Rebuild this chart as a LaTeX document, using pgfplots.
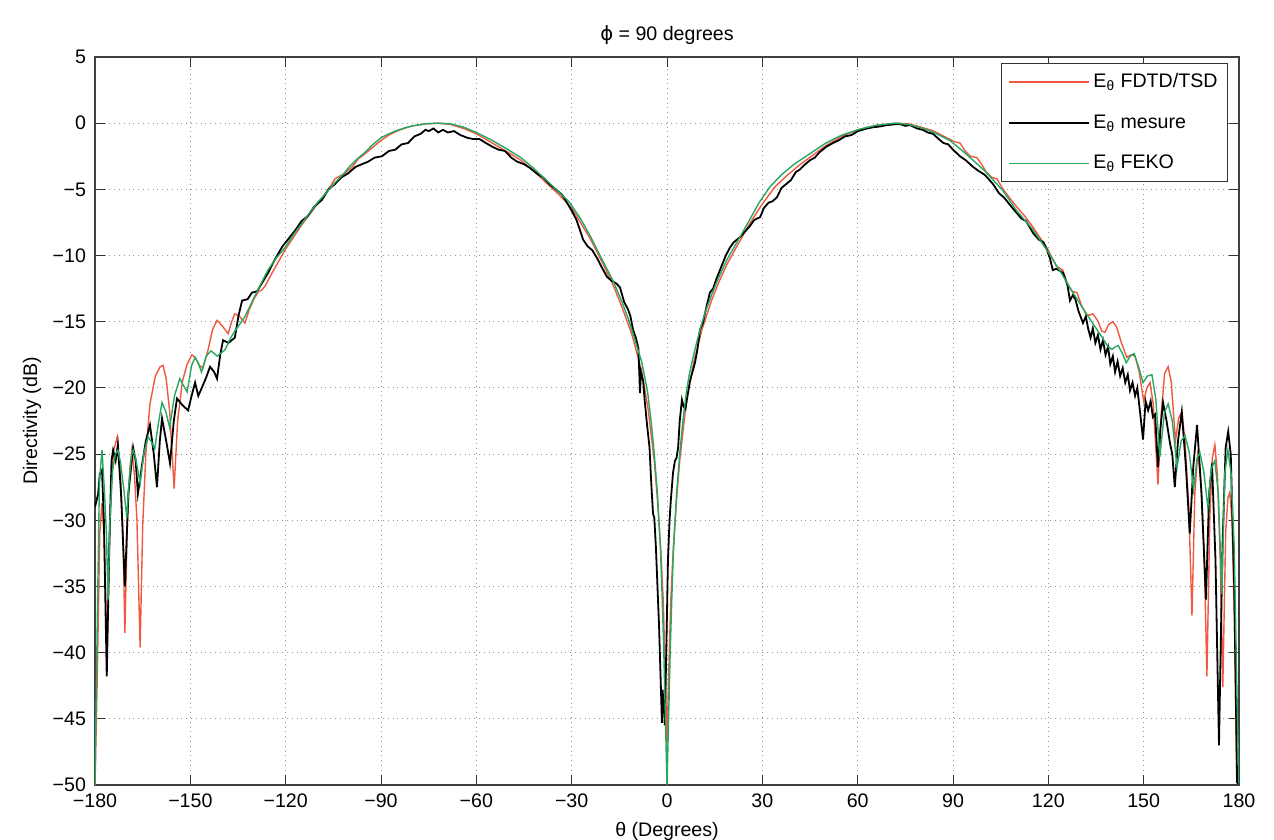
\documentclass[border=0pt]{standalone}
\usepackage{fontspec}
\setmainfont{Liberation Sans}
\newfontfamily\dejavu{DejaVu Sans}
\usepackage{pgfplots}
\pgfplotsset{compat=1.18}
\definecolor{fdtdred}{RGB}{240,88,66}
\definecolor{fekogreen}{RGB}{38,168,98}
\definecolor{gridgray}{RGB}{150,150,150}
\begin{document}
\begin{tikzpicture}
\path[use as bounding box] (-47.5pt,-27.5pt) rectangle (589.5pt,392.5pt);
\begin{axis}[
  scale only axis,
  width=572pt, height=364pt,
  xmin=-180, xmax=180, ymin=-50, ymax=5,
  xtick={-180,-150,...,180},
  ytick={-50,-45,...,5},
  xticklabels={−180,−150,−120,−90,−60,−30,0,30,60,90,120,150,180},
  yticklabels={−50,−45,−40,−35,−30,−25,−20,−15,−10,−5,0,5},
  tick align=inside,
  major tick length=5pt,
  tick style={black!80, line width=0.5pt},
  axis line style={black!75, line width=0.6pt},
  grid=major,
  major grid style={gridgray, dotted, line width=0.5pt},
  ticklabel style={font=\fontsize{9.8}{11}\selectfont},
  xticklabel style={yshift=-1pt},
  yticklabel style={xshift=-1pt},
  title={{\dejavu ϕ} = 90 degrees},
  title style={font=\fontsize{9.8}{11}\selectfont, at={(axis description cs:0.5,1)}, anchor=center, yshift=5pt},
  xlabel={θ (Degrees)},
  xlabel style={font=\fontsize{9.8}{11}\selectfont, at={(axis description cs:0.5,0)}, anchor=center, yshift=-23pt},
  ylabel={Directivity (dB)},
  ylabel style={font=\fontsize{9.8}{11}\selectfont, at={(axis description cs:-0.0551,0.5)}, anchor=center},
  legend cell align=left,
  legend style={at={(1,1)}, anchor=north east, xshift=-5.5pt, yshift=-3pt,
    font=\fontsize{9.8}{11}\selectfont, draw=black!80, line width=0.5pt,
    row sep=8pt, inner xsep=3pt, inner ysep=3pt},
  legend image code/.code={\draw[#1] (0cm,0cm) -- (1.4cm,0cm);},
]
\addplot[fdtdred, line width=0.7pt] coordinates {
(-180,-50) (-179.3,-42) (-178.5,-31) (-177.8,-28.7) (-177.1,-31.5) (-176.2,-40) (-175.3,-30) (-174.2,-24.8) (-173,-23.7) (-172,-26.5) (-171.2,-31) (-170.6,-38.5) (-169.8,-30) (-169,-26) (-168.4,-24.7) (-167.6,-26.5) (-166.8,-30) (-165.8,-39.6) (-165,-30.5) (-164,-25) (-162.7,-21.2) (-161,-19.1) (-159.5,-18.4) (-158.6,-18.3) (-157.6,-19.3) (-156.5,-21.8) (-155.1,-27.6) (-154,-22.5) (-152.5,-19.5) (-151,-18.2) (-149.5,-17.5) (-148.5,-17.7) (-147.2,-18.3) (-146,-18.5) (-144.5,-17.2) (-143,-15.6) (-141.6,-14.9) (-140,-15.3) (-138.1,-15.9) (-137,-15.0) (-136,-14.4) (-134.5,-14.6) (-132.8,-15.1) (-131.5,-14.1) (-130,-13.3) (-128.5,-12.7) (-127.5,-12.6) (-126.5,-12.3) (-124,-11.2) (-120,-9.5) (-117.5,-8.6) (-115,-7.7) (-112.5,-6.9) (-110,-6.1) (-107.5,-5.3) (-106,-4.8) (-104.5,-4.2) (-103,-4.0) (-101.5,-3.8) (-99,-3.3) (-97.2,-2.7) (-95.5,-2.4) (-93,-1.9) (-90,-1.3) (-87.5,-0.9) (-85,-0.6) (-82.5,-0.38) (-80,-0.2) (-76,-0.05) (-72,0) (-68,-0.1) (-64,-0.4) (-60,-0.8) (-55,-1.5) (-50,-2.2) (-46,-2.8) (-42,-3.6) (-38,-4.5) (-34,-5.4) (-30,-6.4) (-27,-7.6) (-24,-8.8) (-20,-10.7) (-17,-12.2) (-14,-14) (-11,-16) (-8,-18.7) (-6,-21.5) (-4,-25.5) (-3,-28.5) (-2,-32) (-1.2,-36) (-0.6,-41) (0,-47) (0.6,-41) (1.2,-36) (2,-32) (3,-28.5) (4,-25.5) (6,-21.2) (8.5,-18) (11,-15.6) (14,-13.4) (16.5,-11.9) (19,-10.6) (22,-9.3) (26,-7.6) (30,-6.1) (34,-4.8) (38,-3.9) (42,-3.1) (46,-2.4) (50,-1.7) (55,-1.0) (60,-0.5) (66,-0.15) (72,0) (76,-0.05) (80,-0.3) (84,-0.6) (88,-1.1) (90.5,-1.4) (92.2,-1.5) (93.8,-2.1) (95.5,-2.5) (97.5,-2.6) (99,-3.1) (100.5,-3.7) (102.2,-4.1) (103.8,-4.2) (105.5,-4.9) (108,-5.7) (110,-6.3) (112.5,-7.0) (115,-7.8) (117.5,-8.7) (120,-9.6) (122.5,-10.8) (124.6,-11.1) (126,-12.2) (127.5,-12.7) (129,-12.8) (130.5,-13.8) (132,-14.5) (133,-14.5) (134,-14.4) (135.5,-14.9) (136.8,-15.7) (137.8,-15.8) (139,-15.2) (140.3,-15.0) (141.5,-15.4) (143,-16.6) (144.7,-17.7) (146,-17.5) (147.3,-17.6) (148.6,-18.8) (150,-21.0) (151,-20.0) (152,-19.6) (153,-21.2) (154.5,-27.3) (155.5,-22) (156.6,-18.9) (157.7,-18.4) (158.7,-19.6) (160,-24) (161,-22.3) (162,-21.8) (163,-24) (164.2,-29) (165.2,-37.2) (166.1,-28) (167.1,-24.7) (168.1,-27.5) (169.1,-33) (169.9,-41.8) (170.8,-30) (171.6,-25.3) (172.4,-24.3) (173.2,-26.5) (174.1,-33) (174.9,-42.6) (175.8,-31) (176.5,-28.3) (177.1,-27.9) (177.8,-30) (178.6,-38) (179.3,-49.8) (180,-50)
};
\addlegendentry{E\textsubscript{θ} FDTD/TSD}
\addplot[black, line width=0.9pt] coordinates {
(-180,-29) (-179,-28) (-178.5,-26.5) (-177.8,-26.2) (-177.2,-30) (-176.3,-41.8) (-175.5,-32) (-174.8,-25.5) (-174.3,-24.7) (-173.5,-25.5) (-172.8,-24.3) (-171.8,-28) (-170.6,-35) (-169.5,-28) (-168,-24.5) (-167.2,-25.5) (-166.5,-28) (-165,-25.5) (-164,-24) (-162.7,-22.8) (-161.5,-25) (-160.5,-27.5) (-159.6,-24) (-158.9,-22.3) (-157.6,-24) (-156.4,-25.7) (-155.2,-22.5) (-154.2,-20.8) (-152.5,-21.3) (-150.7,-21.7) (-149.5,-20.5) (-148.5,-19.6) (-147.5,-20.6) (-146.4,-20) (-145,-19.2) (-143.8,-18.4) (-142.5,-18.8) (-141.6,-19.3) (-140.6,-17.5) (-139.7,-16.4) (-138,-16.6) (-136,-16.2) (-134.8,-14.5) (-133.7,-13.4) (-132,-13.3) (-130.6,-12.8) (-129,-12.7) (-127.5,-12.1) (-125.5,-11.3) (-123.4,-10.3) (-121,-9.3) (-119,-8.7) (-117,-8.1) (-115,-7.4) (-113,-7.0) (-111,-6.3) (-108.6,-5.8) (-106.5,-5.0) (-104.5,-4.6) (-102.5,-4.1) (-100.4,-3.8) (-98,-3.3) (-96,-3.1) (-94,-2.9) (-92,-2.6) (-89.7,-2.5) (-87.5,-2.1) (-85.5,-2.0) (-83.5,-1.6) (-81.5,-1.5) (-79.5,-1.0) (-77.5,-0.8) (-76,-0.5) (-75,-0.6) (-73.5,-0.4) (-72,-0.7) (-70.5,-0.5) (-69,-0.7) (-67,-0.6) (-65,-0.9) (-62.9,-1.1) (-61,-1.2) (-59,-1.2) (-57,-1.5) (-54.8,-1.8) (-53,-2.0) (-51,-2.1) (-49,-2.6) (-47.2,-2.9) (-45,-3.1) (-43,-3.4) (-41,-3.8) (-39,-4.1) (-37,-4.6) (-35,-5.0) (-33,-5.4) (-31.5,-6.0) (-30,-6.6) (-28.5,-7.3) (-27.5,-8.0) (-26.4,-8.8) (-25,-9.3) (-23.5,-9.6) (-22,-10.2) (-20.5,-10.9) (-18.9,-11.6) (-17.5,-11.9) (-16,-12.1) (-14.8,-12.4) (-13.5,-13.5) (-12.2,-14.1) (-11.5,-14.6) (-10.7,-15.6) (-9.8,-16.2) (-9.0,-17.0) (-8.5,-20.4) (-8.2,-18.8) (-7.5,-19.5) (-7,-21) (-6.4,-22.5) (-6,-23.4) (-5.5,-24.5) (-5,-27) (-4.4,-29.5) (-4,-29.8) (-3.5,-32) (-3,-35) (-2.5,-38) (-2,-42) (-1.6,-45.3) (-1.4,-42.8) (-1.0,-44) (-0.7,-45.5) (-0.4,-42) (0,-37) (0.3,-33) (0.8,-30) (1.2,-28.5) (1.9,-26.4) (2.5,-25.5) (3.0,-25.3) (3.5,-24.5) (4.0,-22.5) (4.7,-20.9) (5.2,-21.4) (5.8,-21.6) (6.5,-20.5) (7.2,-19.5) (8,-18.8) (8.8,-18.1) (9.5,-17.2) (10.4,-15.6) (11.3,-15.1) (12.3,-14.0) (13.5,-12.8) (14.5,-12.5) (15.5,-11.8) (17,-10.9) (18.5,-10.0) (19.8,-9.4) (21,-9.0) (23,-8.6) (24.5,-8.2) (26,-7.8) (27.5,-7.3) (29.3,-7.1) (30.5,-6.4) (32,-6.0) (33.2,-5.9) (34.6,-5.6) (36,-4.9) (37.5,-4.6) (39,-4.3) (40.5,-3.7) (41.8,-3.5) (43.5,-3.1) (45,-2.8) (46.5,-2.6) (48,-2.2) (50,-1.8) (52.2,-1.5) (54,-1.3) (56,-1.0) (58,-0.9) (60,-0.6) (62.9,-0.4) (65,-0.3) (67,-0.25) (69,-0.15) (71,-0.1) (73,-0.05) (75,-0.2) (76.5,-0.15) (78.7,-0.4) (80.5,-0.5) (82,-0.7) (83.7,-0.8) (85.5,-1.2) (87,-1.5) (88.5,-1.6) (90,-2.0) (92.2,-2.5) (94,-2.8) (96.3,-3.3) (98,-3.6) (100,-3.9) (102.6,-4.6) (104.5,-5.3) (106,-5.6) (108,-6.2) (110.1,-6.8) (111.5,-7.2) (113,-7.4) (115.2,-8.3) (117,-8.8) (118.5,-9.0) (119.6,-9.6) (120.5,-10.2) (121.4,-11.1) (122.5,-11.0) (124.6,-11.3) (126,-12.2) (126.8,-13.4) (127.7,-13.0) (128.5,-13.3) (129.5,-14.2) (130.9,-15.1) (131.8,-14.6) (132.6,-15.6) (133.3,-16.2) (134,-15.5) (134.8,-16.6) (135.6,-16.0) (136.4,-17.1) (137.2,-16.4) (138,-17.5) (138.8,-16.9) (139.5,-18.2) (140.3,-17.6) (141,-18.8) (141.8,-18.0) (142.6,-19.1) (143.4,-18.5) (144.2,-19.6) (145,-19.0) (145.7,-20.2) (146.5,-19.6) (147.3,-20.6) (148,-20.0) (148.8,-21.7) (149.8,-23.9) (150.6,-21.0) (151.4,-21.7) (152.2,-21.0) (152.9,-22.2) (153.6,-22.0) (154.5,-26) (155.3,-23) (156.1,-21.1) (157.2,-22.5) (158.3,-24.2) (159,-25) (159.8,-27.5) (160.8,-24) (162,-21.8) (163.3,-26) (164.5,-31) (165.6,-26) (166.8,-22.8) (168.2,-28) (169.6,-36) (170.6,-28) (171.5,-25.7) (172.6,-33) (173.7,-47) (174.8,-32) (175.8,-24.5) (176.6,-23.3) (177.4,-25) (178.5,-35) (179.4,-49.8) (180,-50)
};
\addlegendentry{E\textsubscript{θ} mesure}
\addplot[fekogreen, line width=0.7pt] coordinates {
(-180,-50) (-179.3,-38) (-178.6,-27) (-177.8,-24.7) (-177.1,-27.5) (-176.4,-31) (-175.9,-36) (-175.3,-30) (-174.5,-26.3) (-173.6,-25) (-172.8,-24.7) (-172,-25.6) (-171,-27.5) (-170,-29.8) (-169.2,-26.8) (-168.5,-25.1) (-168,-24.7) (-167.2,-25.3) (-165.8,-27.2) (-164.6,-24.9) (-163.3,-23.7) (-162.2,-24.1) (-161.2,-24.6) (-160,-22.6) (-158.9,-21.1) (-157.7,-21.8) (-156.5,-23.0) (-155,-20.6) (-153.3,-19.3) (-152.2,-19.8) (-151,-20.3) (-149.6,-18.3) (-148.5,-17.7) (-147.5,-18.1) (-146.5,-18.8) (-145,-17.6) (-143.5,-17.2) (-142.5,-17.4) (-141.5,-17.6) (-140,-17.3) (-139,-17.1) (-137.5,-16.3) (-136,-15.7) (-134.5,-15.2) (-132.8,-14.6) (-130,-13.2) (-127.5,-12.0) (-125.6,-11.1) (-123,-10.2) (-120.2,-9.4) (-117.5,-8.4) (-115,-7.6) (-112.5,-6.8) (-110,-6.0) (-107,-5.2) (-104.5,-4.5) (-102,-3.9) (-100,-3.3) (-97.5,-2.7) (-95,-2.2) (-92.5,-1.6) (-90,-1.1) (-87.5,-0.8) (-85,-0.55) (-82.5,-0.35) (-80,-0.2) (-76,-0.05) (-72,0) (-68,-0.05) (-64,-0.3) (-60,-0.7) (-55,-1.3) (-50,-2.0) (-46,-2.6) (-42,-3.4) (-38,-4.3) (-34,-5.2) (-30.6,-6.0) (-27,-7.3) (-24,-8.6) (-20,-10.5) (-17,-11.9) (-14,-13.6) (-12,-14.9) (-10.7,-15.9) (-9.3,-17.0) (-8,-18.0) (-7,-19.2) (-6,-20.5) (-5,-22.5) (-4,-25) (-3,-28) (-2,-32.5) (-1.5,-36) (-1,-40) (-0.5,-45) (0,-50) (0.5,-45) (1,-40) (1.5,-36) (2,-32.5) (3,-28) (4,-25) (5,-22.5) (6,-20.5) (7,-19) (8.2,-17.7) (9.3,-16.6) (10.5,-15.5) (12,-14.3) (14,-13.0) (16,-11.8) (18.9,-10.3) (22,-9.0) (26,-7.3) (29,-6.0) (32.4,-4.8) (36,-3.9) (40,-3.1) (45,-2.3) (50,-1.5) (55,-0.9) (60.7,-0.45) (66,-0.15) (72,0) (76,-0.1) (80,-0.35) (84,-0.7) (89,-1.3) (94,-2.3) (100,-3.6) (105.7,-5.1) (110,-6.6) (115,-8.0) (119.6,-9.6) (124,-11.3) (128,-12.9) (132,-14.4) (135.3,-15.6) (137,-16.2) (138.5,-16.8) (140,-17.1) (141,-16.9) (142,-16.8) (143.3,-17.4) (144.5,-18.1) (145.8,-17.6) (147,-17.4) (148.4,-18.4) (149.8,-19.6) (151.2,-19.1) (152.6,-19.0) (153.8,-20.8) (155.1,-25.2) (156.5,-21.9) (157.7,-21.2) (159,-22.5) (160.5,-26) (161.8,-24.0) (163,-23.6) (164.3,-24.8) (165.7,-27.7) (166.8,-25.3) (167.7,-24.9) (168.9,-26.3) (170.2,-29) (171.3,-26.1) (172.4,-25.5) (173.5,-28) (174.6,-35.6) (175.5,-26.5) (176.5,-24.7) (177.5,-26.5) (178.5,-32) (179.5,-45) (180,-50)
};
\addlegendentry{E\textsubscript{θ} FEKO}
\end{axis}
\end{tikzpicture}
\end{document}
